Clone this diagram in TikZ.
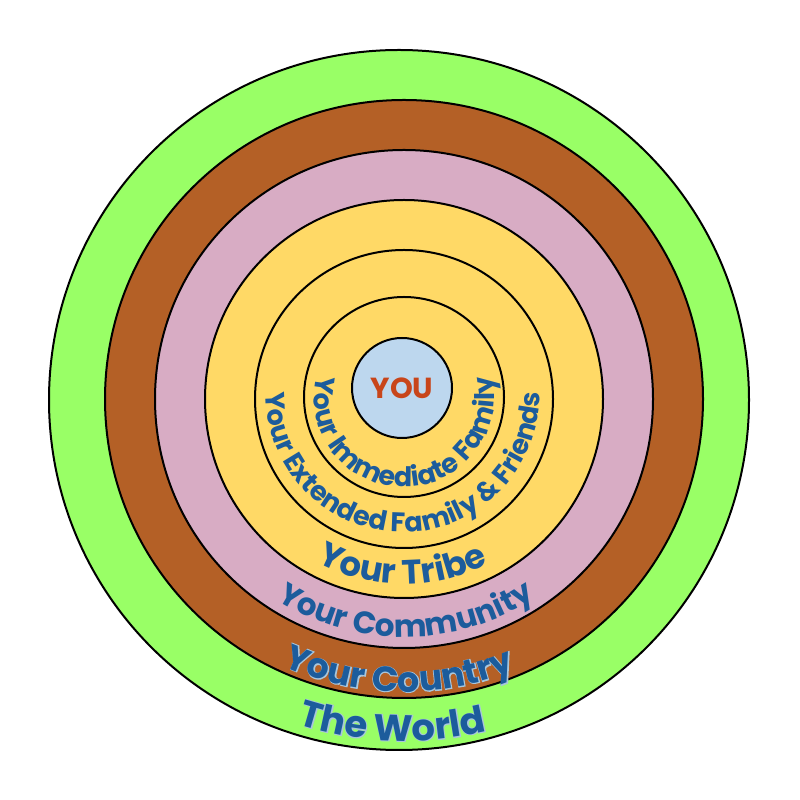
\documentclass[tikz,border=0pt]{standalone}
\usepackage{fontspec}
\newfontfamily\arcf{Poppins}
\newfontfamily\halof{Poppins}[BoldFeatures={FakeBold=4}]
\usetikzlibrary{decorations.text}
\definecolor{gr}{HTML}{99FF66}
\definecolor{br}{HTML}{B46026}
\definecolor{pk}{HTML}{D8ACC4}
\definecolor{yl}{HTML}{FFD966}
\definecolor{bl}{HTML}{BDD7EE}
\definecolor{txb}{HTML}{1C5C9C}
\definecolor{halo}{HTML}{A8C6DC}
\definecolor{youred}{HTML}{C8451A}
% #1 centre, #2 radius, #3 mid angle, #4 format, #5 text
\newcommand\arctxt[5]{%
  \path[decorate, decoration={text along path, text align=center, text={|#4|#5}}]
    ([shift={(#3-150:#2)}]#1) arc[start angle=#3-150, end angle=#3+150, radius=#2];}
\begin{document}
\begin{tikzpicture}[x=1pt,y=1pt,
  ring/.style={circle, draw=black, line width=2pt, inner sep=0pt, outer sep=0pt}]
\useasboundingbox (0,0) rectangle (800,800);
\fill[white] (0,0) rectangle (800,800);
\coordinate (c) at (404,401);
\coordinate (cg) at (399,400);
\coordinate (cb) at (402,412);
\node[ring, fill=gr, minimum size=700] (world) at (cg) {};
\node[ring, fill=br, minimum size=598] (country) at (c) {};
\node[ring, fill=pk, minimum size=498] (community) at (c) {};
\node[ring, fill=yl, minimum size=398] (tribe) at (c) {};
\node[ring, fill=yl, minimum size=298] (extended) at (c) {};
\node[ring, fill=yl, minimum size=200] (immediate) at (404,403) {};
\node[ring, fill=bl, minimum size=100, font=\arcf\bfseries\fontsize{29}{30}\selectfont, text=youred] (you) at (cb) {YOU};
% labels
\coordinate (ci) at (404,403);
\coordinate (ce) at (403,405);
\arctxt{ci}{90}{270}{\arcf\bfseries\fontsize{27}{28}\selectfont\color{txb}}{Your Immediate Family}
\arctxt{ce}{137}{270}{\arcf\bfseries\fontsize{27}{28}\selectfont\color{txb}}{Your Extended Family {\&} Friends}
\arctxt{c}{185}{269.5}{\arcf\bfseries\fontsize{34}{36}\selectfont\color{txb}}{Your Tribe}
\arctxt{c}{238}{270.5}{\arcf\bfseries\fontsize{31}{33}\selectfont\color{txb}}{Your Community}
\begin{scope}[shift={(-0.6,-0.6)}]
\arctxt{c}{293}{269}{\halof\bfseries\fontsize{35}{36}\selectfont\color{halo}}{Your Country}
\arctxt{c}{342}{268}{\halof\bfseries\fontsize{37}{38}\selectfont\color{halo}}{The World}
\end{scope}
\arctxt{c}{293}{269}{\arcf\bfseries\fontsize{35}{36}\selectfont\color{txb}}{Your Country}
\arctxt{c}{342}{268}{\arcf\bfseries\fontsize{37}{38}\selectfont\color{txb}}{The World}
\end{tikzpicture}
\end{document}
